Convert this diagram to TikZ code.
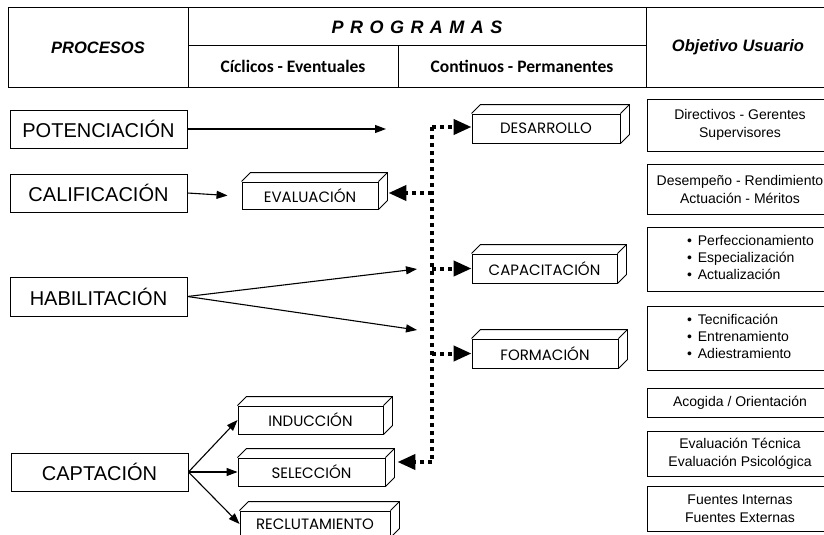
\documentclass[tikz,border=0pt]{standalone}
\usepackage{fontspec}
\setmainfont{Liberation Sans}
\newfontfamily\cubefont{Poppins}
\newfontfamily\hdrfont{Carlito}
\usetikzlibrary{arrows.meta}
\newcommand\cubefaces[1]{%
  \draw[line width=0.9pt] (#1.north west) -- ++(9,-9) -- ([shift={(9,-9)}]#1.north east) -- ([shift={(9,-9)}]#1.south east) -- (#1.south east);
  \draw[line width=0.9pt] (#1.north east) -- ++(9,-9);}
\begin{document}
\begin{tikzpicture}[x=1pt,y=-1pt,
  procbox/.style={draw, line width=0.9pt, minimum width=177pt, minimum height=38pt, inner sep=0pt, font=\fontsize{20}{22}\selectfont},
  cube/.style={draw, line width=0.9pt, inner sep=0pt, fill=white, font=\cubefont\fontsize{15}{17}\selectfont},
  objbox/.style={draw, line width=0.9pt, minimum width=186pt, inner sep=0pt, align=center, font=\fontsize{14}{18}\selectfont},
  cell/.style={draw, line width=1pt, inner sep=0pt},
  hbi/.style={font=\bfseries\itshape\fontsize{16.5}{20}\selectfont},
  hsub/.style={font=\hdrfont\bfseries\fontsize{17.5}{20}\selectfont},
  thinarrow/.style={line width=1.1pt, -{Triangle[length=11pt,width=8pt]}},
  dotline/.style={line width=4pt, dash pattern=on 4pt off 4pt},
  dotarrow/.style={dotline, -{Triangle[length=18pt,width=15pt]}},
]
\useasboundingbox (0,0) rectangle (824,535);
\clip (0,0) rectangle (824,535);
\fill[white] (0,0) rectangle (824,535);

% header
\node[cell, hbi, minimum width=180pt, minimum height=79pt] (hproc) at (98,47.5) {PROCESOS};
\node[cell, minimum width=458pt, minimum height=38pt, font=\bfseries\itshape\fontsize{18}{20}\selectfont\addfontfeatures{LetterSpace=36}] (hprog) at (417,27) {PROGRAMAS};
\node[cell, hsub, minimum width=210pt, minimum height=41pt] (hcic) at (293,66.5) {Cíclicos - Eventuales};
\node[cell, hsub, minimum width=248pt, minimum height=41pt] (hcon) at (522,66.5) {Continuos - Permanentes};
\node[cell, hbi, minimum width=184pt, minimum height=79pt] (hobj) at (738,47.5) {Objetivo Usuario};

% processes
\node[procbox] (potenc) at (98.5,129) {POTENCIACIÓN};
\node[procbox] (calif) at (98.5,193) {CALIFICACIÓN};
\node[procbox, minimum height=39pt] (habil) at (98.5,296.5) {HABILITACIÓN};
\node[procbox] (capt) at (99.5,472) {CAPTACIÓN};

% programs (3D boxes)
\node[cube, minimum width=136pt, minimum height=27pt] (eval) at (310,195.5) {EVALUACIÓN};
\node[cube, minimum width=148pt, minimum height=29pt] (desar) at (546,128.5) {DESARROLLO};
\node[cube, minimum width=145pt, minimum height=29pt] (capac) at (544.5,268.5) {CAPACITACIÓN};
\node[cube, minimum width=146pt, minimum height=29pt] (form) at (545,353.5) {FORMACIÓN};
\node[cube, minimum width=145pt, minimum height=28pt] (induc) at (310.5,420) {INDUCCIÓN};
\node[cube, minimum width=147pt, minimum height=28pt] (selec) at (311.5,472) {SELECCIÓN};
\node[cube, minimum width=150pt, minimum height=26pt] (reclu) at (315,524) {RECLUTAMIENTO};
\cubefaces{eval}
\cubefaces{desar}
\cubefaces{capac}
\cubefaces{form}
\cubefaces{induc}
\cubefaces{selec}
\cubefaces{reclu}

% objectives
\node[objbox, minimum height=52pt] (o1) at (740,125) {Directivos - Gerentes\\Supervisores};
\node[objbox, minimum height=50pt] (o2) at (740,189) {Desempeño - Rendimiento\\Actuación - Méritos};
\node[objbox, minimum height=64pt, font=\fontsize{14}{17}\selectfont] (o3) at (740,259) {\hspace*{24pt}\begin{tabular}{@{}p{130pt}@{}}\textbullet\hspace{6pt}Perfeccionamiento\\ \textbullet\hspace{6pt}Especialización\\ \textbullet\hspace{6pt}Actualización\end{tabular}};
\node[objbox, minimum height=64pt, font=\fontsize{14}{17}\selectfont] (o4) at (740,338) {\hspace*{24pt}\begin{tabular}{@{}p{130pt}@{}}\textbullet\hspace{6pt}Tecnificación\\ \textbullet\hspace{6pt}Entrenamiento\\ \textbullet\hspace{6pt}Adiestramiento\end{tabular}};
\node[objbox, minimum height=29pt] (o5) at (740,402.5) {Acogida / Orientación};
\node[objbox, minimum height=45pt] (o6) at (740,453.5) {Evaluación Técnica\\Evaluación Psicológica};
\node[objbox, minimum height=45pt] (o7) at (740,508.5) {Fuentes Internas\\Fuentes Externas};

% thin arrows
\coordinate (p1) at (386,129);
\coordinate (h1) at (417,269);
\coordinate (h2) at (417,330);
\draw[thinarrow] (potenc.east) -- (p1);
\draw[thinarrow] (calif.east) -- ([xshift=-14pt]eval.west);
\draw[thinarrow] (habil.east) -- (h1);
\draw[thinarrow] (habil.east) -- (h2);
\draw[thinarrow] (capt.east) -- (induc.west);
\draw[thinarrow] (capt.east) -- (selec.west);
\draw[thinarrow] (capt.east) -- (reclu.west);

% dotted connectors
\coordinate (j1) at (432,127);
\coordinate (j2) at (432,193);
\coordinate (j3) at (432,268.5);
\coordinate (j4) at (432,353.5);
\coordinate (j5) at (432,462);
\draw[dotline] (j1) -- (j5);
\draw[dotarrow] (j1) -- (desar.west |- j1);
\draw[dotarrow] (j2) -- ([xshift=10pt]eval.east |- j2);
\draw[dotarrow] (j3) -- (capac.west);
\draw[dotarrow] (j4) -- (form.west);
\draw[dotarrow] (j5) -- ([xshift=12pt]selec.east |- j5);
\end{tikzpicture}
\end{document}
